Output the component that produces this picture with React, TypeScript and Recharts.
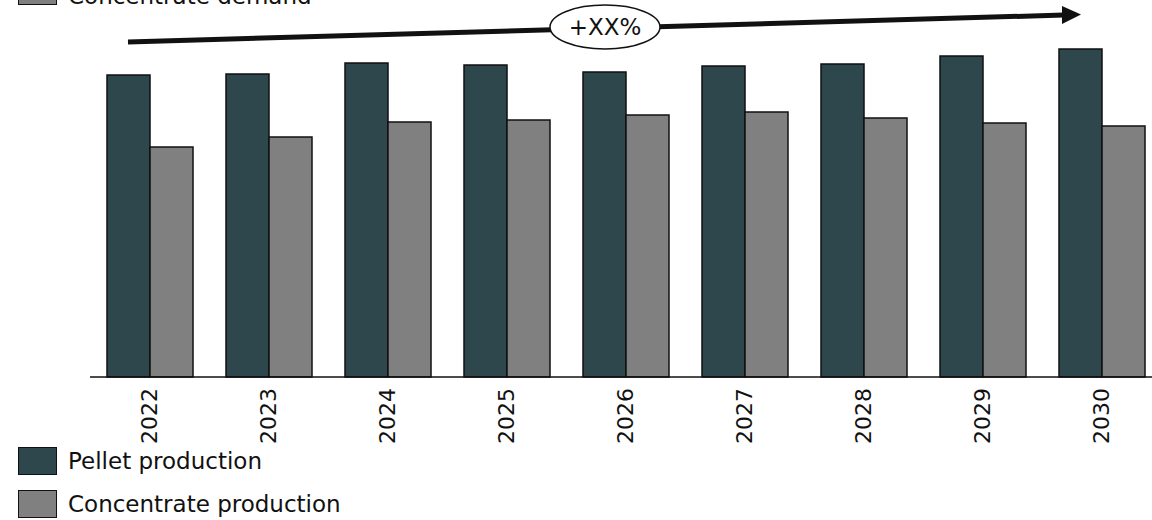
import { BarChart, Bar, XAxis, YAxis } from "recharts";

// production by year (Mt)
const years = ["2022", "2023", "2024", "2025", "2026", "2027", "2028", "2029", "2030"];
const pelletProduction = [30.2, 30.3, 31.4, 31.2, 30.5, 31.1, 31.3, 32.1, 32.8];
const concentrateProduction = [23.0, 24.0, 25.5, 25.7, 26.2, 26.5, 25.9, 25.4, 25.1];

const growthLabel = "+XX%";

const legendItems = [
  { name: "Concentrate demand", color: "#808080", top: -23, textShift: 5 },
  { name: "Pellet production", color: "#2e474c", top: 447, textShift: 0 },
  { name: "Concentrate production", color: "#808080", top: 490, textShift: 0 },
];

const rows = years.map((year, i) => ({
  year,
  pellet: pelletProduction[i],
  concentrate: concentrateProduction[i],
}));

const FONT = '"DejaVu Sans", Verdana, sans-serif';
const INK = "#111";

function YearTick({ x, y, payload }: any) {
  return (
    <text
      x={x}
      y={y}
      transform={`rotate(-90 ${x} ${y})`}
      textAnchor="end"
      dy="0.36em"
      fontSize={22}
      fontFamily={FONT}
      fill={INK}
    >
      {payload.value}
    </text>
  );
}

// trend arrow with the growth bubble sitting on it
function TrendArrow() {
  return (
    <svg
      width={1152}
      height={520}
      style={{ position: "absolute", left: 0, top: 0, pointerEvents: "none" }}
    >
      <line x1={128} y1={42} x2={1064} y2={15} stroke={INK} strokeWidth={5} />
      <polygon points="1062,6 1081,14.5 1062,24" fill={INK} />
      <ellipse cx={605} cy={27} rx={55} ry={22} fill="#fff" stroke={INK} strokeWidth={1.5} />
      <text
        x={605}
        y={27}
        dy="0.36em"
        textAnchor="middle"
        fontSize={23}
        fontFamily={FONT}
        fill={INK}
      >
        {growthLabel}
      </text>
    </svg>
  );
}

function LegendBlock() {
  return (
    <>
      {legendItems.map((item) => (
        <div
          key={item.name}
          style={{
            position: "absolute",
            left: 18,
            top: item.top,
            height: 28,
            display: "flex",
            alignItems: "center",
            fontFamily: FONT,
            fontSize: 23,
            color: INK,
            whiteSpace: "nowrap",
          }}
        >
          <span
            style={{
              width: 39,
              height: 28,
              boxSizing: "border-box",
              background: item.color,
              border: `1.5px solid ${INK}`,
              marginRight: 11,
              flex: "none",
            }}
          />
          <span style={{ position: "relative", top: item.textShift }}>{item.name}</span>
        </div>
      ))}
    </>
  );
}

export default function App() {
  return (
    <div
      style={{
        position: "absolute",
        left: 0,
        top: 0,
        width: 1152,
        height: 520,
        overflow: "hidden",
        background: "#fff",
      }}
    >
      <BarChart
        width={1170}
        height={520}
        data={rows}
        margin={{ top: 0, right: 9, left: 90, bottom: 0 }}
        barSize={43}
        barGap={0}
      >
        <XAxis
          dataKey="year"
          height={143}
          axisLine={{ stroke: INK, strokeWidth: 1.5 }}
          tickLine={false}
          tickSize={0}
          tickMargin={11}
          interval={0}
          tick={<YearTick />}
        />
        <YAxis hide domain={[0, 37.7]} />
        <Bar dataKey="pellet" fill="#2e474c" stroke={INK} strokeWidth={1.5} isAnimationActive={false} />
        <Bar dataKey="concentrate" fill="#808080" stroke={INK} strokeWidth={1.5} isAnimationActive={false} />
      </BarChart>
      <TrendArrow />
      <LegendBlock />
    </div>
  );
}
